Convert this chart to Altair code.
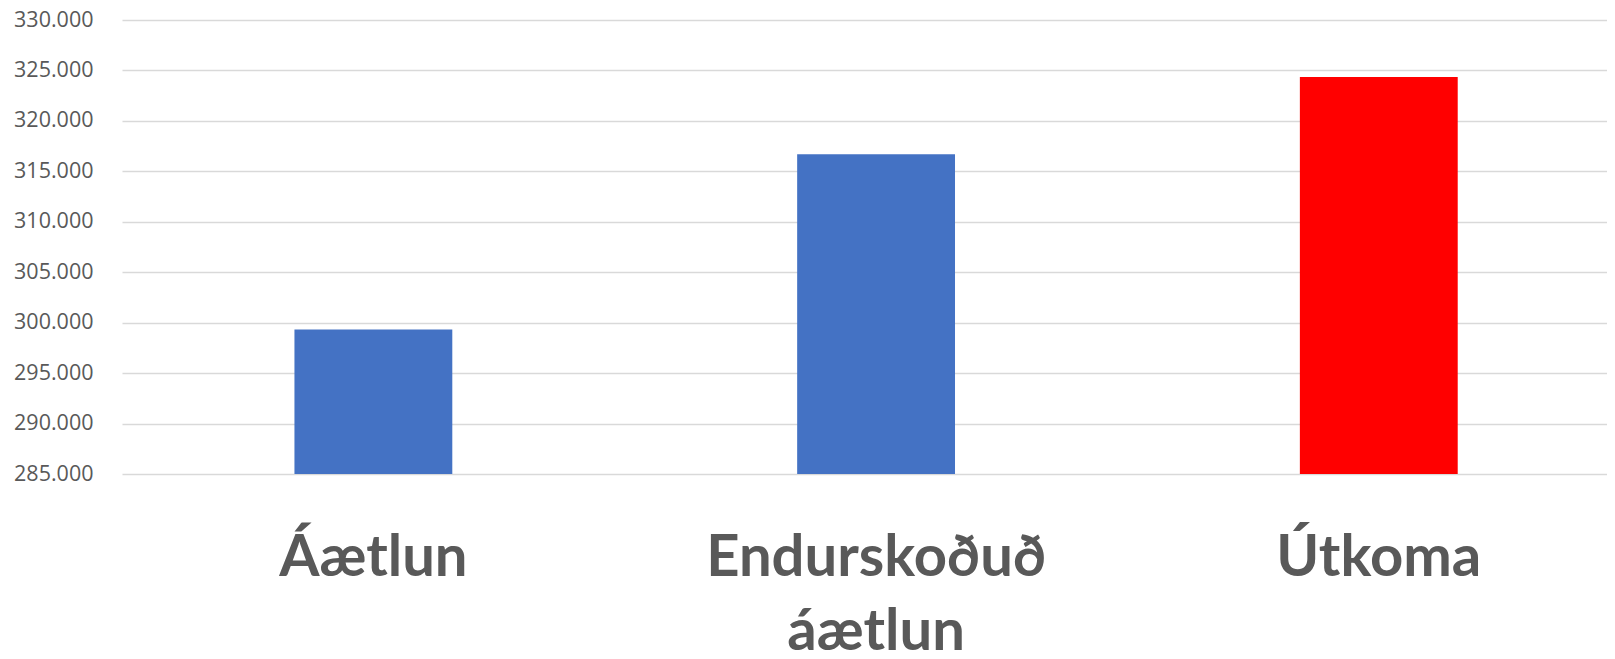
import altair as alt
import pandas as pd

categories = ["Áætlun", "Endurskoðuð áætlun", "Útkoma"]
values = [299320, 316700, 324350]
colors = ["#4472C4", "#4472C4", "#FF0000"]
y_ticks = [285000, 290000, 295000, 300000, 305000, 310000, 315000, 320000, 325000, 330000]

df = pd.DataFrame({"cat": categories, "val": values, "col": colors})

chart = alt.Chart(df).mark_bar().encode(
    x=alt.X(
        "cat:N",
        sort=categories,
        title=None,
        scale=alt.Scale(paddingInner=0.686, paddingOuter=0.32, align=0.536),
        axis=alt.Axis(
            labelAngle=0,
            labelFont="Lato",
            labelFontWeight="bold",
            labelFontSize=58,
            labelColor="#595959",
            labelPadding=55,
            labelLineHeight=74,
            labelLimit=0,
            labelExpr="split(datum.value, ' ')",
            ticks=False,
            tickSize=0,
            domain=False,
            grid=False,
        ),
    ),
    y=alt.Y(
        "val:Q",
        title=None,
        scale=alt.Scale(domain=[285000, 330000], zero=False, nice=False),
        axis=alt.Axis(
            values=y_ticks,
            labelExpr="replace(format(datum.value, ',.0f'), ',', '.')",
            labelFont="Open Sans",
            labelFontSize=21.5,
            labelColor="#595959",
            labelPadding=29,
            ticks=False,
            tickSize=0,
            domain=False,
            gridColor="#d9d9d9",
            gridWidth=1.6,
        ),
    ),
    y2=alt.datum(285000),
    color=alt.Color("col:N", scale=None, legend=None),
).properties(
    width=1485,
    height=454,
    padding={"left": 114, "top": 12, "right": 0, "bottom": 177},
    autosize=alt.AutoSizeParams(type="none"),
).configure_view(stroke=None)

chart.save("out.html", embed_options={"renderer": "svg", "actions": False})
